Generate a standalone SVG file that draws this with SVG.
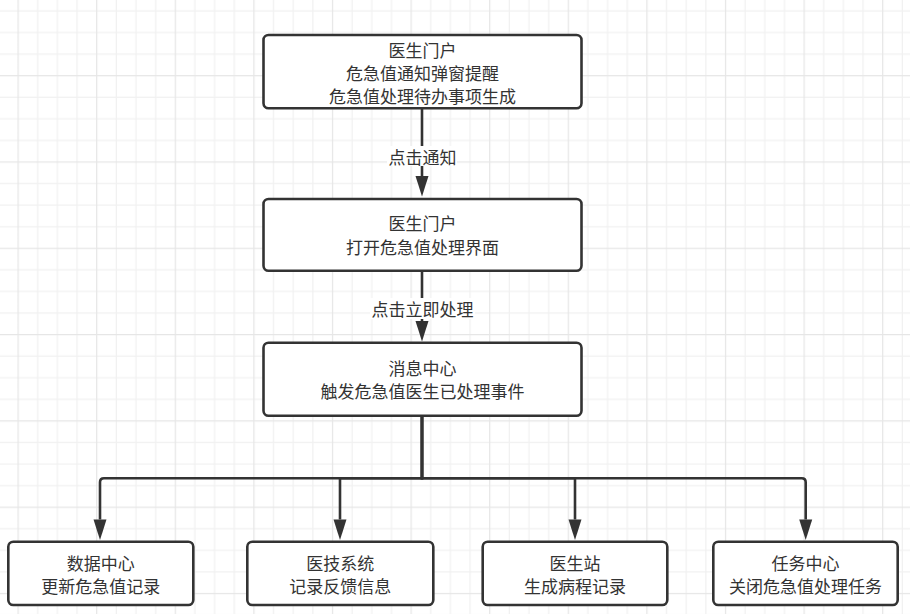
<svg xmlns="http://www.w3.org/2000/svg" width="910" height="614" viewBox="0 0 910 614">
<style>
.box{fill:#ffffff;stroke:#333333;stroke-width:2.6}
.t{font-family:"Microsoft YaHei","Noto Sans CJK SC","Liberation Sans",sans-serif;font-size:17px;fill:#333333;text-anchor:middle;dominant-baseline:central}
.edge{fill:none;stroke:#333333;stroke-width:2.6}
.lbl{fill:#ffffff}
</style>
<defs>
<pattern id="grid" patternUnits="userSpaceOnUse" x="17.5" y="75.1" width="78.6" height="86.3">
<rect x="0" y="0" width="78.6" height="86.3" fill="#ffffff"/>
<rect x="19.65" y="0" width="1.2" height="86.3" fill="#f1f1f1"/>
<rect x="39.3" y="0" width="1.2" height="86.3" fill="#f1f1f1"/>
<rect x="58.95" y="0" width="1.2" height="86.3" fill="#f1f1f1"/>
<rect x="0" y="21.575" width="78.6" height="1.2" fill="#f1f1f1"/>
<rect x="0" y="43.15" width="78.6" height="1.2" fill="#f1f1f1"/>
<rect x="0" y="64.725" width="78.6" height="1.2" fill="#f1f1f1"/>
<rect x="0" y="0" width="1.2" height="86.3" fill="#e6e6e6"/>
<rect x="0" y="0" width="78.6" height="1.2" fill="#e6e6e6"/>
</pattern>
<marker id="arr" markerUnits="userSpaceOnUse" markerWidth="22" markerHeight="14" refX="0" refY="6.5" orient="auto" overflow="visible">
<path d="M0,0 L20.5,6.5 L0,13 Z" fill="#333333"/>
</marker>
</defs>
<rect x="0" y="0" width="910" height="614" fill="url(#grid)"/>

<g id="connectors">
<line class="edge" x1="422" y1="108" x2="422" y2="176" marker-end="url(#arr)"/>
<rect class="lbl" x="387" y="146" width="70" height="20"/>
<text class="t" x="422.5" y="156">点击通知</text>
<line class="edge" x1="422" y1="271" x2="422" y2="321" marker-end="url(#arr)"/>
<rect class="lbl" x="370" y="298" width="105" height="21"/>
<text class="t" x="422.5" y="308.5">点击立即处理</text>
<path class="edge" d="M422,416 V478.3 H104 Q100,478.3 100,482.3 V519.5" marker-end="url(#arr)"/>
<path class="edge" d="M422,416 V478.3 H340 V519.5" marker-end="url(#arr)"/>
<path class="edge" d="M422,416 V478.3 H575 V519.5" marker-end="url(#arr)"/>
<path class="edge" d="M422,416 V478.3 H801.7 Q805.7,478.3 805.7,482.3 V519.5" marker-end="url(#arr)"/>
</g>

<g id="n1">
<rect class="box" x="263.5" y="35" width="318" height="73.3" rx="5"/>
<text class="t" x="422.5" y="49.5">医生门户</text>
<text class="t" x="422.5" y="72.3">危急值通知弹窗提醒</text>
<text class="t" x="422.5" y="95">危急值处理待办事项生成</text>
</g>
<g id="n2">
<rect class="box" x="263.5" y="199" width="318" height="71.7" rx="5"/>
<text class="t" x="422.5" y="222.5">医生门户</text>
<text class="t" x="422.5" y="246.5">打开危急值处理界面</text>
</g>
<g id="n3">
<rect class="box" x="263.5" y="342.7" width="318" height="73" rx="5"/>
<text class="t" x="422.5" y="367">消息中心</text>
<text class="t" x="422.5" y="390.5">触发危急值医生已处理事件</text>
</g>
<g id="n4">
<rect class="box" x="8.3" y="541.7" width="185" height="63.3" rx="5"/>
<text class="t" x="100.8" y="562.6">数据中心</text>
<text class="t" x="100.8" y="585.8">更新危急值记录</text>
</g>
<g id="n5">
<rect class="box" x="247.3" y="541.7" width="186" height="63.3" rx="5"/>
<text class="t" x="340.3" y="562.6">医技系统</text>
<text class="t" x="340.3" y="585.8">记录反馈信息</text>
</g>
<g id="n6">
<rect class="box" x="482.7" y="541.7" width="184.6" height="63.3" rx="5"/>
<text class="t" x="575" y="562.6">医生站</text>
<text class="t" x="575" y="585.8">生成病程记录</text>
</g>
<g id="n7">
<rect class="box" x="713.3" y="541.7" width="184.4" height="63.3" rx="5"/>
<text class="t" x="805.5" y="562.6">任务中心</text>
<text class="t" x="805.5" y="585.8">关闭危急值处理任务</text>
</g>
</svg>
